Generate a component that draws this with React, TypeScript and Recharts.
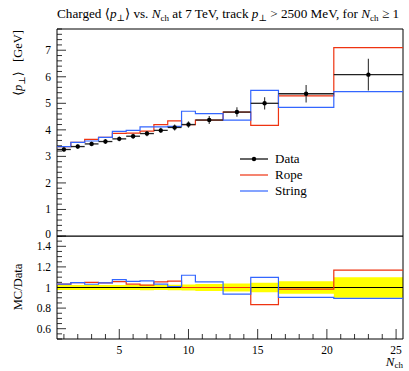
import React from 'react';
import {
  ComposedChart,
  Line,
  Scatter,
  ErrorBar,
  XAxis,
  YAxis,
  Area,
  ReferenceLine,
  ReferenceArea,
} from 'recharts';

// bin edges in N_ch
const binLow = [0.5, 1.5, 2.5, 3.5, 4.5, 5.5, 6.5, 7.5, 8.5, 9.5, 10.5, 12.5, 14.5, 16.5, 20.5];
const binHigh = [1.5, 2.5, 3.5, 4.5, 5.5, 6.5, 7.5, 8.5, 9.5, 10.5, 12.5, 14.5, 16.5, 20.5, 25.5];

// <pT> [GeV]
const dataVal = [3.26, 3.37, 3.47, 3.56, 3.66, 3.76, 3.86, 3.98, 4.09, 4.2, 4.37, 4.67, 5.0, 5.36, 6.08];
const dataErr = [0.08, 0.08, 0.085, 0.09, 0.09, 0.095, 0.1, 0.1, 0.11, 0.12, 0.15, 0.18, 0.23, 0.33, 0.6];
const ropeVal = [3.37, 3.53, 3.64, 3.72, 3.87, 3.88, 3.95, 4.2, 4.34, 4.2, 4.37, 4.67, 4.17, 5.28, 7.1];
const stringVal = [3.37, 3.53, 3.58, 3.72, 3.94, 3.98, 4.11, 4.11, 4.13, 4.7, 4.61, 4.37, 5.49, 4.85, 5.44];

const xTicks = Array.from({ length: 25 }, (_, i) => i + 1);
const xMajor = [5, 10, 15, 20, 25];
const mainYTicks = Array.from({ length: 40 }, (_, i) => Math.round(i * 2) / 10);
const ratioYTicks = Array.from({ length: 21 }, (_, i) => Math.round(50 + i * 5) / 100);
const ratioMajor = [0.6, 0.8, 1, 1.2, 1.4];

const RED = '#ee3311';
const BLUE = '#3366ff';
const FONT = '"Liberation Serif", "DejaVu Serif", serif';

const steps = (vals: number[]) => [
  ...vals.map((v, i) => ({ x: binLow[i], y: v })),
  { x: binHigh[binHigh.length - 1], y: vals[vals.length - 1] },
];

const points = dataVal.map((v, i) => ({
  x: (binLow[i] + binHigh[i]) / 2,
  y: v,
  ex: (binHigh[i] - binLow[i]) / 2,
  ey: dataErr[i],
}));

const band = [
  ...dataVal.map((v, i) => ({ x: binLow[i], r: [1 - dataErr[i] / v, 1 + dataErr[i] / v] })),
  {
    x: binHigh[binHigh.length - 1],
    r: [1 - dataErr[14] / dataVal[14], 1 + dataErr[14] / dataVal[14]],
  },
];

const ratio = (vals: number[]) => vals.map((v, i) => v / dataVal[i]);

const YTick = (props: any) => {
  const { x, y, payload, isMajor, fmt } = props;
  const major = isMajor(payload.value);
  return (
    <g>
      <line x1={x} x2={x + (major ? 9 : 5)} y1={y} y2={y} stroke="#000" strokeWidth={0.8} />
      {major && (
        <text
          x={x - 6}
          y={y}
          dy={payload.value === 0 ? 2 : 4}
          textAnchor="end"
          fontSize={11.5}
          fontFamily={FONT}
          fill="#000"
        >
          {fmt(payload.value)}
        </text>
      )}
    </g>
  );
};

const XTick = (props: any) => {
  const { x, y, payload, showLabel } = props;
  const major = xMajor.includes(payload.value);
  return (
    <g>
      <line x1={x} x2={x} y1={y} y2={y - (major ? 10 : 5)} stroke="#000" strokeWidth={0.8} />
      {major && showLabel && (
        <text x={x} y={y + 15} textAnchor="middle" fontSize={11.5} fontFamily={FONT} fill="#000">
          {payload.value}
        </text>
      )}
    </g>
  );
};

const Dot = (props: any) => <circle cx={props.cx} cy={props.cy} r={2.2} fill="#000" />;

const Overlay = () => (
  <svg
    width={409}
    height={371}
    style={{ position: 'absolute', left: 0, top: 0, pointerEvents: 'none' }}
    fontFamily={FONT}
  >
    <text x={57} y={18} fontSize={13.2}>
      Charged ⟨<tspan fontStyle="italic">p</tspan>
      <tspan fontSize={9} dy={3}>⊥</tspan>
      <tspan dy={-3}>⟩ vs. </tspan>
      <tspan fontStyle="italic">N</tspan>
      <tspan fontSize={9} dy={3}>ch</tspan>
      <tspan dy={-3}> at 7 TeV, track </tspan>
      <tspan fontStyle="italic">p</tspan>
      <tspan fontSize={9} dy={3}>⊥</tspan>
      <tspan dy={-3}> &gt; 2500 MeV, for </tspan>
      <tspan fontStyle="italic">N</tspan>
      <tspan fontSize={9} dy={3}>ch</tspan>
      <tspan dy={-3}> ≥ 1</tspan>
    </text>
    <text transform="translate(22,30) rotate(-90)" textAnchor="end" fontSize={12.5}>
      ⟨<tspan fontStyle="italic">p</tspan>
      <tspan fontSize={9} dy={3}>⊥</tspan>
      <tspan dy={-3}>{'⟩\u00a0\u00a0\u00a0[GeV]'}</tspan>
    </text>
    <text transform="translate(22,287) rotate(-90)" textAnchor="middle" fontSize={12.5}>
      MC/Data
    </text>
    <text x={403} y={366} textAnchor="end" fontSize={13}>
      <tspan fontStyle="italic">N</tspan>
      <tspan fontSize={9} dy={2}>ch</tspan>
    </text>
    <g fontSize={13}>
      <line x1={240} x2={268} y1={159} y2={159} stroke="#000" strokeWidth={1.2} />
      <circle cx={254} cy={159} r={2.2} fill="#000" />
      <text x={275} y={163}>Data</text>
      <line x1={240} x2={268} y1={175} y2={175} stroke={RED} strokeWidth={1.2} />
      <text x={275} y={179}>Rope</text>
      <line x1={240} x2={268} y1={191} y2={191} stroke={BLUE} strokeWidth={1.2} />
      <text x={275} y={195}>String</text>
    </g>
  </svg>
);

export default function App() {
  return (
    <div style={{ position: 'absolute', left: 0, top: 0, width: 409, height: 371, background: '#fff' }}>
      <div style={{ position: 'absolute', left: 0, top: 236 }}>
        <ComposedChart width={409} height={135} margin={{ top: 0, right: 6, left: 0, bottom: 0 }}>
          <XAxis
            type="number"
            dataKey="x"
            domain={[0.5, 25.5]}
            ticks={xTicks}
            interval={0}
            height={32}
            axisLine={false}
            tickLine={false}
            tickSize={0}
            tickMargin={0}
            tick={<XTick showLabel={true} />}
            allowDataOverflow
          />
          <YAxis
            type="number"
            domain={[0.5, 1.5]}
            ticks={ratioYTicks}
            interval={0}
            width={57}
            axisLine={false}
            tickLine={false}
            tickSize={0}
            tickMargin={0}
            tick={
              <YTick
                isMajor={(v: number) => ratioMajor.some((m) => Math.abs(m - v) < 1e-6)}
                fmt={(v: number) => String(v)}
              />
            }
            allowDataOverflow
          />
          <Area
            data={band}
            dataKey="r"
            type="stepAfter"
            fill="#ffff00"
            fillOpacity={1}
            stroke="none"
            isAnimationActive={false}
          />
          <ReferenceLine y={1} stroke="#000" strokeWidth={1.2} />
          <Line
            data={steps(ratio(ropeVal))}
            dataKey="y"
            type="stepAfter"
            stroke={RED}
            strokeWidth={1.2}
            dot={false}
            isAnimationActive={false}
          />
          <Line
            data={steps(ratio(stringVal))}
            dataKey="y"
            type="stepAfter"
            stroke={BLUE}
            strokeWidth={1.2}
            dot={false}
            isAnimationActive={false}
          />
          <ReferenceArea x1={0.5} x2={25.5} y1={0.5} y2={1.5} fill="none" stroke="#000" strokeWidth={1} />
        </ComposedChart>
      </div>
      <div style={{ position: 'absolute', left: 0, top: 0 }}>
        <ComposedChart width={409} height={244} margin={{ top: 29, right: 6, left: 0, bottom: 8 }}>
          <XAxis
            type="number"
            dataKey="x"
            domain={[0.5, 25.5]}
            ticks={xTicks}
            interval={0}
            height={0}
            axisLine={false}
            tickLine={false}
            tickSize={0}
            tickMargin={0}
            tick={<XTick showLabel={false} />}
            allowDataOverflow
          />
          <YAxis
            type="number"
            domain={[0, 7.8]}
            ticks={mainYTicks}
            interval={0}
            width={57}
            axisLine={false}
            tickLine={false}
            tickSize={0}
            tickMargin={0}
            tick={<YTick isMajor={(v: number) => Number.isInteger(v)} fmt={(v: number) => String(v)} />}
            allowDataOverflow
          />
          <ReferenceArea x1={0.5} x2={25.5} y1={0} y2={7.8} fill="none" stroke="#000" strokeWidth={1} />
          <Line data={steps(ropeVal)} dataKey="y" type="stepAfter" stroke={RED} strokeWidth={1.2} dot={false} isAnimationActive={false} />
          <Line data={steps(stringVal)} dataKey="y" type="stepAfter" stroke={BLUE} strokeWidth={1.2} dot={false} isAnimationActive={false} />
          <Scatter data={points} dataKey="y" shape={<Dot />} isAnimationActive={false}>
            <ErrorBar dataKey="ex" direction="x" width={0} stroke="#222" strokeWidth={1.3} />
            <ErrorBar dataKey="ey" direction="y" width={0} stroke="#444" strokeWidth={1.2} />
          </Scatter>
        </ComposedChart>
      </div>
      <Overlay />
    </div>
  );
}
